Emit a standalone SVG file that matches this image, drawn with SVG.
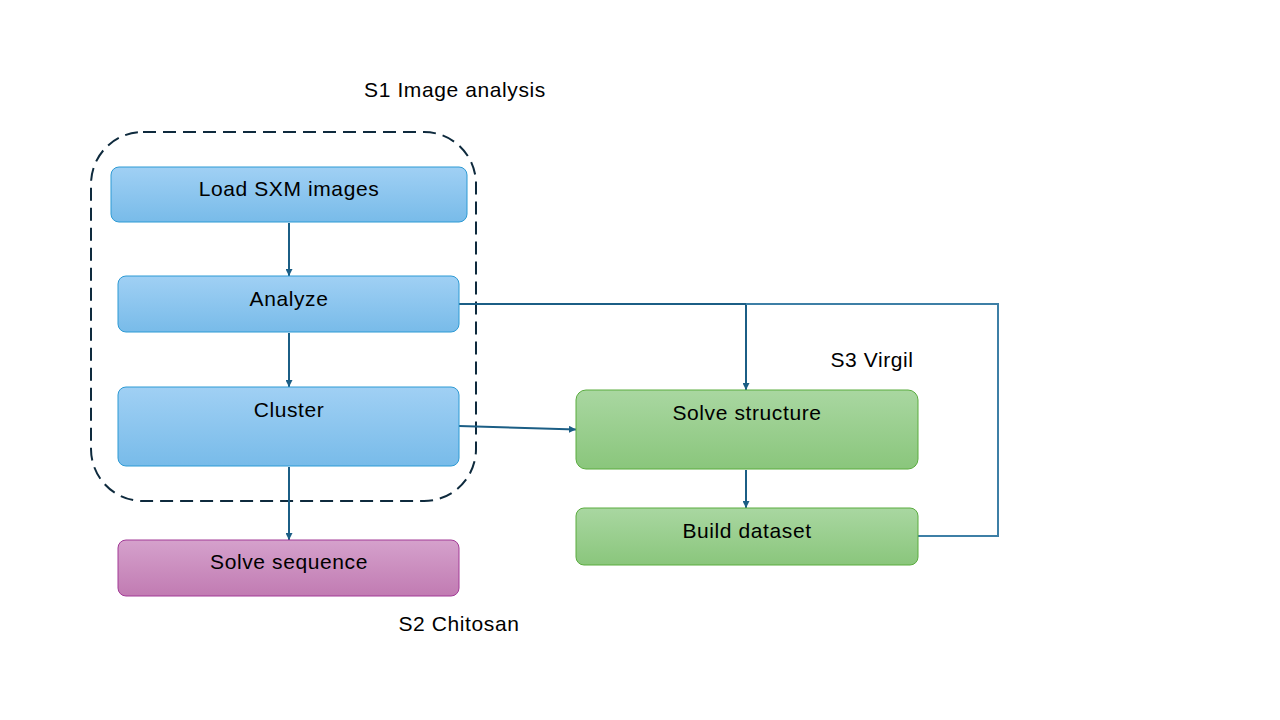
<svg xmlns="http://www.w3.org/2000/svg" width="1280" height="720" viewBox="0 0 1280 720">
<defs>
<linearGradient id="gBlue" x1="0" y1="0" x2="0" y2="1"><stop offset="0" stop-color="#a0d0f4"/><stop offset="1" stop-color="#78bbe9"/></linearGradient>
<linearGradient id="gGreen" x1="0" y1="0" x2="0" y2="1"><stop offset="0" stop-color="#a9d7a1"/><stop offset="1" stop-color="#8ac67c"/></linearGradient>
<linearGradient id="gPurple" x1="0" y1="0" x2="0" y2="1"><stop offset="0" stop-color="#d5a1cc"/><stop offset="1" stop-color="#c17bb2"/></linearGradient>
<marker id="arr" viewBox="0 0 10 10" refX="10" refY="5" markerWidth="7" markerHeight="7" orient="auto" markerUnits="userSpaceOnUse"><path d="M0,0 L10,5 L0,10 z" fill="#1b5e85"/></marker>
</defs>
<style>
text{font-family:"Liberation Sans",Arial,sans-serif;font-size:21px;letter-spacing:0.6px;fill:#000;}
.c{text-anchor:middle;}
.blue{fill:url(#gBlue);stroke:#2d9ad4;stroke-width:1;}
.green{fill:url(#gGreen);stroke:#5aac3f;stroke-width:1;}
.purple{fill:url(#gPurple);stroke:#a23a96;stroke-width:1;}
.edge{fill:none;stroke:#1b5e85;stroke-width:2;}
.edge2{fill:none;stroke:#3d7fa6;stroke-width:2;}
</style>
<rect width="1280" height="720" fill="#fff"/>
<g id="group-s1">
<rect x="91" y="132" width="385" height="369" rx="52" fill="none" stroke="#0e2a3d" stroke-width="2" stroke-dasharray="13,7"/>
<text x="455" y="97" class="c">S1 Image analysis</text>
</g>
<g id="connectors">
<line class="edge" x1="289" y1="223" x2="289" y2="276" marker-end="url(#arr)"/>
<line class="edge" x1="289" y1="333" x2="289" y2="387" marker-end="url(#arr)"/>
<line class="edge" x1="289" y1="467" x2="289" y2="540" marker-end="url(#arr)"/>
<polyline class="edge" points="459,304 746,304 746,390" marker-end="url(#arr)"/>
<polyline class="edge2" points="918,536 998,536 998,304 746,304"/>
<line class="edge" x1="459" y1="426" x2="576" y2="429.5" marker-end="url(#arr)"/>
<line class="edge" x1="746" y1="470" x2="746" y2="508" marker-end="url(#arr)"/>
</g>
<g id="node-load">
<rect class="blue" x="111" y="167" width="356" height="55" rx="8"/>
<text x="289" y="196" class="c">Load SXM images</text>
</g>
<g id="node-analyze">
<rect class="blue" x="118" y="276" width="341" height="56" rx="8"/>
<text x="289" y="306" class="c">Analyze</text>
</g>
<g id="node-cluster">
<rect class="blue" x="118" y="387" width="341" height="79" rx="8"/>
<text x="289" y="417" class="c">Cluster</text>
</g>
<g id="node-sequence">
<rect class="purple" x="118" y="540" width="341" height="56" rx="8"/>
<text x="289" y="569" class="c">Solve sequence</text>
</g>
<g id="node-structure">
<rect class="green" x="576" y="390" width="342" height="79" rx="10"/>
<text x="747" y="420" class="c">Solve structure</text>
</g>
<g id="node-dataset">
<rect class="green" x="576" y="508" width="342" height="57" rx="8"/>
<text x="747" y="538" class="c">Build dataset</text>
</g>
<g id="labels">
<text x="872" y="367" class="c">S3 Virgil</text>
<text x="459" y="631" class="c">S2 Chitosan</text>
</g>
</svg>
